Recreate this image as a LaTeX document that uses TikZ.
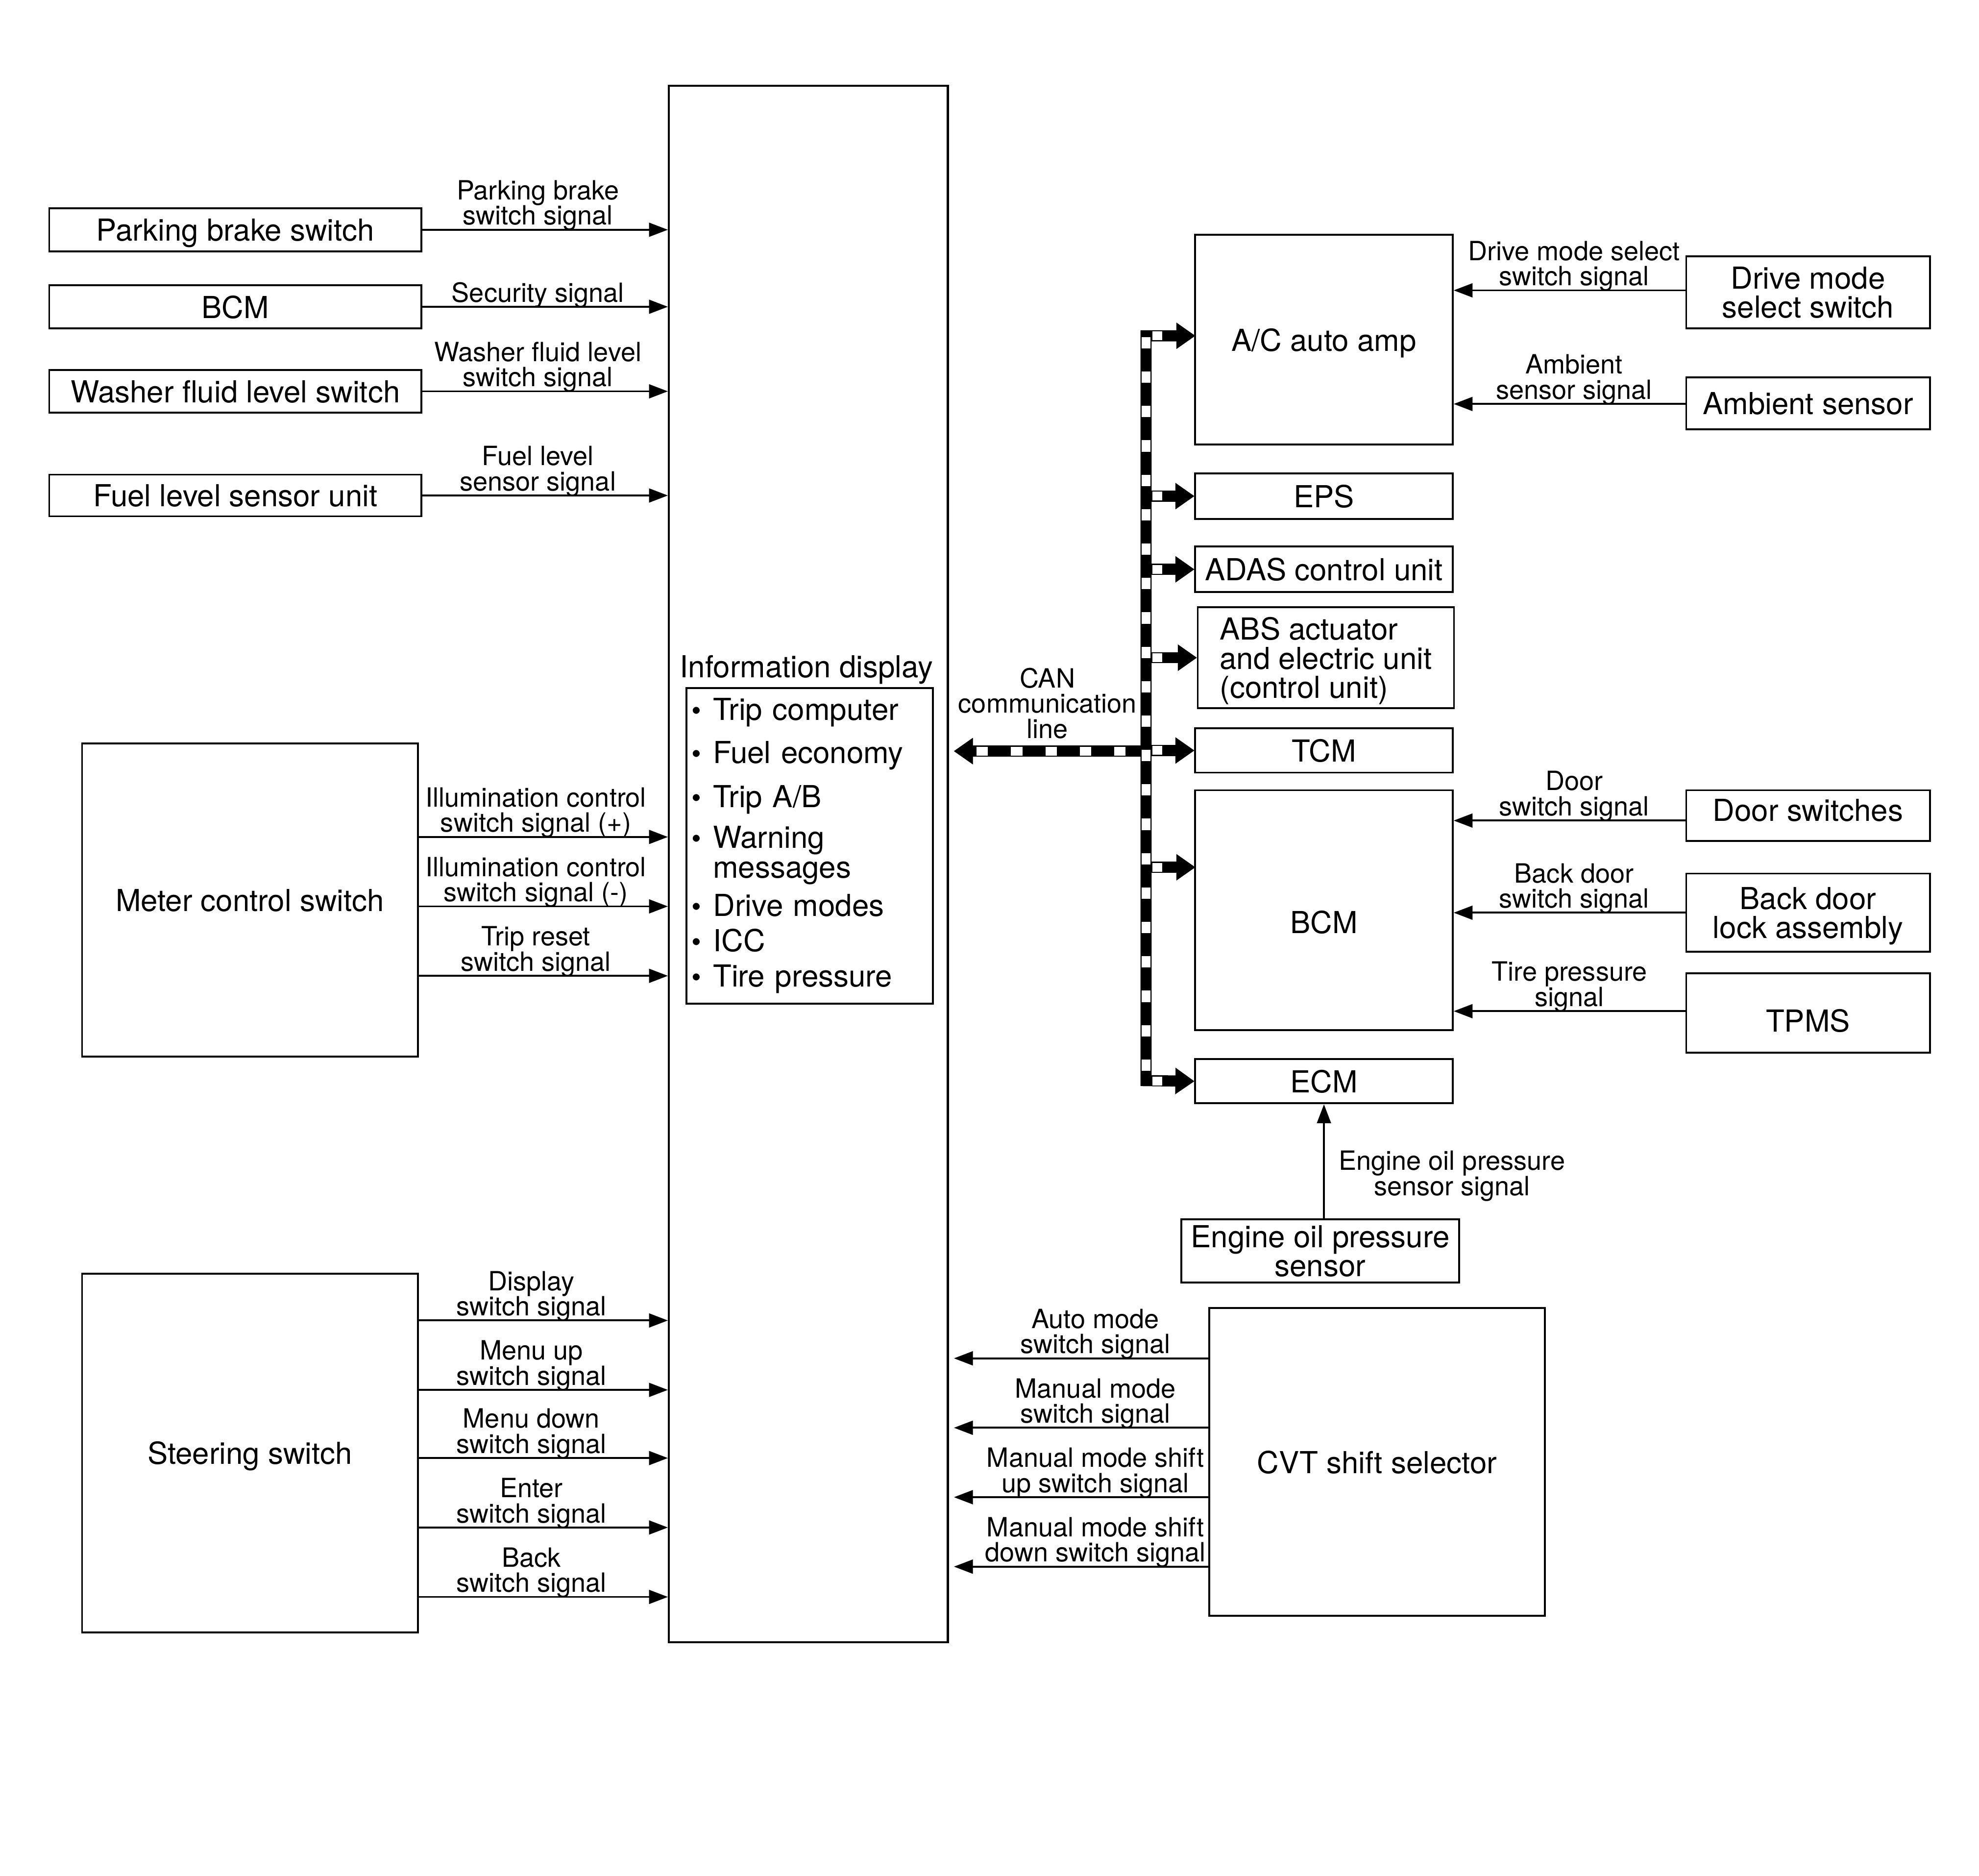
\documentclass[tikz,border=0pt]{standalone}
\usepackage{fontspec}
\setmainfont{TeX Gyre Heros}
\usetikzlibrary{arrows.meta,positioning}

\newcommand\boxfont{\fontsize{24}{23}\selectfont}
\newcommand\sigfont{\fontsize{21}{20}\selectfont}
\newcommand\dispbul{\makebox[16pt][l]{\hspace*{-1pt}\raisebox{0pt}{\fontsize{22}{22}\selectfont\textbullet}}}

\begin{document}
\begin{tikzpicture}[x=1pt, y=-1pt,
  box/.style={draw, line width=1.5pt, inner sep=0pt, align=center, font=\boxfont, text depth=0pt},
  lbl/.style={font=\sigfont, align=center, inner sep=1pt, yshift=-2.5pt},
  sig/.style={line width=1.5pt, -{Triangle[length=15pt, width=11pt]}},
  canline/.style={line width=8.8pt, >={Triangle[length=15pt, width=21pt, line width=0.2pt]}},
  canwhite/.style={line width=7pt, white, dash pattern=on 9pt off 18.25pt}]

  % ── Information display ──
  \node[box, line width=1.6pt, minimum width=221pt, minimum height=1233pt] (disp) at (640.5,684.5) {};
  \node[draw, line width=1.5pt, inner sep=0pt, font=\boxfont, minimum width=195pt, minimum height=250pt,
        text width=185pt, align=left] (list) at (641.5,670) {%
    \dispbul Trip computer\\[11pt]
    \dispbul Fuel economy\\[12pt]
    \dispbul Trip A/B\\[9pt]
    \dispbul Warning\\[1pt]
    \hspace*{16pt}messages\\[7pt]
    \dispbul Drive modes\\[5pt]
    \dispbul ICC\\[5pt]
    \dispbul Tire pressure};
  \node[font=\boxfont, inner sep=2pt, above=0pt of list, xshift=-2.5pt] (disptitle) {Information display};

  % ── left side inputs ──
  \node[box, minimum width=295pt, minimum height=34pt] (pbs)  at (186.5,182)   {Parking brake switch};
  \node[box, minimum width=295pt, minimum height=34pt] (bcml) at (186.5,243)   {BCM};
  \node[box, minimum width=295pt, minimum height=34pt] (wfl)  at (186.5,310)   {Washer fluid level switch};
  \node[box, minimum width=295pt, minimum height=33pt] (fls)  at (186.5,392.5) {Fuel level sensor unit};
  \node[box, minimum width=266pt, minimum height=248pt] (mcs) at (198,713)     {Meter control switch};
  \node[box, minimum width=266pt, minimum height=284pt] (sts) at (198,1151)    {Steering switch};

  \draw[sig] (pbs.east)  -- (pbs.east -| disp.west)  node[lbl, above, pos=0.47] (pbssig) {Parking brake\\switch signal};
  \draw[sig] (bcml.east) -- (bcml.east -| disp.west) node[lbl, above, pos=0.47] (secsig) {Security signal};
  \draw[sig] (wfl.east)  -- (wfl.east -| disp.west)  node[lbl, above, pos=0.47] (wflsig) {Washer fluid level\\switch signal};
  \draw[sig] (fls.east)  -- (fls.east -| disp.west)  node[lbl, above, pos=0.47] (flssig) {Fuel level\\sensor signal};

  \foreach \y/\txt in {663/{Illumination control\\switch signal (+)},
                       718/{Illumination control\\switch signal (-)},
                       773/{Trip reset\\switch signal}}
    \draw[sig] (mcs.east |- 0,\y) -- (disp.west |- 0,\y) node[lbl, above, pos=0.47] (msig\y) {\txt};

  \foreach \y/\txt in {1046/{Display\\switch signal},
                       1101/{Menu up\\switch signal},
                       1155/{Menu down\\switch signal},
                       1210/{Enter\\switch signal},
                       1265/{Back\\switch signal}}
    \draw[sig] (sts.east |- 0,\y) -- (disp.west |- 0,\y) node[lbl, above, pos=0.452] (ssig\y) {\txt};

  % ── CAN units ──
  \node[box, minimum width=204pt, minimum height=166pt] (ac)   at (1049,269)   {A/C auto amp};
  \node[box, minimum width=204pt, minimum height=36pt]  (eps)  at (1049,393)   {EPS};
  \node[box, minimum width=204pt, minimum height=36pt]  (adas) at (1049,451)   {ADAS control unit};
  \node[box, minimum width=203pt, minimum height=80pt, align=left] (abs) at (1050.5,521) {ABS actuator\\and electric unit\\(control unit)};
  \node[box, minimum width=204pt, minimum height=35pt]  (tcm)  at (1049,594.5) {TCM};
  \node[box, minimum width=204pt, minimum height=190pt, text height=37pt] (bcmr) at (1049,721) {BCM};
  \node[box, minimum width=204pt, minimum height=35pt]  (ecm)  at (1049,856.5) {ECM};
  \node[box, minimum width=220pt, minimum height=50pt]  (eops) at (1046,991)   {Engine oil pressure\\sensor};
  \node[box, minimum width=266pt, minimum height=244pt] (cvt)  at (1091,1158)  {CVT shift selector};

  % ── far right sensors / switches ──
  \node[box, minimum width=193pt, minimum height=57pt] (dms)  at (1432.5,231.5) {Drive mode\\select switch};
  \node[box, minimum width=193pt, minimum height=41pt] (amb)  at (1432.5,319.5) {Ambient sensor};
  \node[box, minimum width=193pt, minimum height=40pt, text height=9pt] (door) at (1432.5,646) {Door switches};
  \node[box, minimum width=193pt, minimum height=62pt] (bdl)  at (1432.5,723)   {Back door\\lock assembly};
  \node[box, minimum width=193pt, minimum height=63pt, text height=30pt] (tpms) at (1432.5,802.5) {TPMS};

  \draw[sig] (dms.west |- 0,230)  -- (ac.east |- 0,230)   node[lbl, above, pos=0.48] (dmssig)  {Drive mode select\\switch signal};
  \draw[sig] (amb.west |- 0,320)  -- (ac.east |- 0,320)   node[lbl, above, pos=0.48] (ambsig)  {Ambient\\sensor signal};
  \draw[sig] (door.west |- 0,650) -- (bcmr.east |- 0,650) node[lbl, above, pos=0.48] (doorsig) {Door\\switch signal};
  \draw[sig] (bdl.west |- 0,723)  -- (bcmr.east |- 0,723) node[lbl, above, pos=0.48] (bdlsig)  {Back door\\switch signal};
  \draw[sig] (tpms.west |- 0,801) -- (bcmr.east |- 0,801) node[lbl, above, pos=0.5]  (tpmssig) {Tire pressure\\signal};

  \draw[sig] (ecm.south |- eops.north) -- (ecm.south)
    node[lbl, midway, anchor=west, xshift=10pt, yshift=-9pt] (eopssig) {Engine oil pressure\\sensor signal};

  % ── CVT shift selector to display ──
  \foreach \y/\txt in {1076/{Auto mode\\switch signal},
                       1131/{Manual mode\\switch signal},
                       1186/{Manual mode shift\\up switch signal},
                       1241/{Manual mode shift\\down switch signal}}
    \draw[sig, shorten >=4pt] (cvt.west |- 0,\y) -- (disp.east |- 0,\y) node[lbl, above, pos=0.435] (csig\y) {\txt};

  % ── CAN communication line ──
  \coordinate (bus)    at (908,595);
  \coordinate (bustop) at (908,266);
  \coordinate (busbot) at (908,856);
  \coordinate (acin)   at (947,266);
  \coordinate (bcmin)  at (947,687);

  \draw[canline, <->] (acin) -- (bustop) -- (busbot) -- (ecm.west);
  \foreach \n in {eps,adas,abs,tcm}
    \draw[canline, ->] (bus |- \n.west) -- (\n.west);
  \draw[canline, ->] (bus |- bcmin) -- (bcmin);
  \draw[canline, ->, shorten >=4pt] (bus) -- (disp.east |- bus)
    node[lbl, above=7pt, midway] (canlbl) {CAN\\communication\\line};

  % white dashes inside the bus
  \draw[canwhite, dash phase=26.25pt] (bustop) -- (busbot);
  \draw[canwhite] ([xshift=22pt]disp.east |- bus) -- (bus);
  \foreach \n in {acin,eps.west,adas.west,abs.west,tcm.west,bcmin,ecm.west}
    \draw[canwhite, solid] ([xshift=5pt]bus |- \n) -- ([xshift=13pt]bus |- \n);

  \pgfresetboundingbox
  \path[use as bounding box] (0,0) rectangle (1568,1486);
\end{tikzpicture}
\end{document}
